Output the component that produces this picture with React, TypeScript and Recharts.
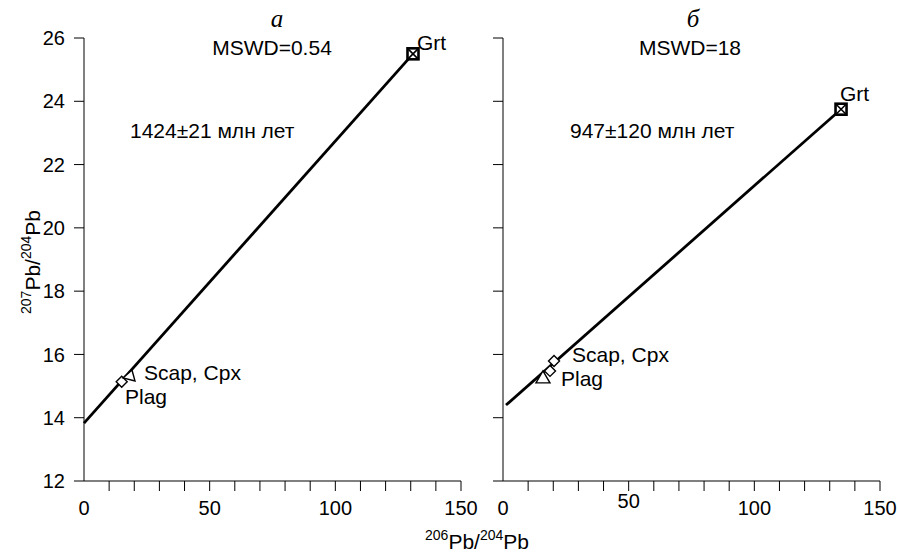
import React from "react";
import { ScatterChart, Scatter, XAxis, YAxis, ReferenceLine } from "recharts";

const FONT = "'Liberation Sans', Arial, sans-serif";

const xTicks = [0, 10, 20, 30, 40, 50, 60, 70, 80, 90, 100, 110, 120, 130, 140, 150];
const yTicks = [12, 14, 16, 18, 20, 22, 24, 26];

// panel "a"
const aPlag = [{ x: 15.0, y: 15.14 }];
const aScapCpx = [{ x: 18.3, y: 15.32 }];
const aGrt = [{ x: 130.9, y: 25.5 }];
const aIsochron = [{ x: 0, y: 13.83 }, { x: 130.9, y: 25.5 }];

// panel "б"
const bPlag = [{ x: 15.9, y: 15.26 }];
const bScapCpx = [{ x: 18.7, y: 15.48 }, { x: 20.3, y: 15.79 }];
const bGrt = [{ x: 134.5, y: 23.75 }];
const bIsochron = [{ x: 1.2, y: 14.4 }, { x: 134.5, y: 23.75 }];

const Diamond = (p: any) => {
  const { cx, cy } = p;
  const r = 5.5;
  return (
    <path
      d={`M${cx},${cy - r} L${cx + r},${cy} L${cx},${cy + r} L${cx - r},${cy} Z`}
      fill="#fff"
      stroke="#000"
      strokeWidth={1.4}
    />
  );
};

const TriangleUp = (p: any) => {
  const { cx, cy } = p;
  return (
    <path
      d={`M${cx},${cy - 7} L${cx + 7},${cy + 5} L${cx - 7},${cy + 5} Z`}
      fill="#fff"
      stroke="#000"
      strokeWidth={1.4}
    />
  );
};

const TriangleTilted = (p: any) => {
  const { cx, cy } = p;
  return (
    <path
      d={`M${cx - 7},${cy + 2} L${cx + 2},${cy - 6} L${cx + 5},${cy + 5} Z`}
      fill="#fff"
      stroke="#000"
      strokeWidth={1.4}
    />
  );
};

const GrtBox = (p: any) => {
  const { cx, cy } = p;
  const h = 5.5;
  return (
    <g>
      <rect x={cx - h} y={cy - h} width={h * 2} height={h * 2} fill="#fff" stroke="#000" strokeWidth={2.6} />
      <line x1={cx - h} y1={cy - h} x2={cx + h} y2={cy + h} stroke="#000" strokeWidth={1.6} />
      <line x1={cx - h} y1={cy + h} x2={cx + h} y2={cy - h} stroke="#000" strokeWidth={1.6} />
    </g>
  );
};

// x ticks: minor tick every 10, labels every 50, no tick line at 0
const makeXTick = (raise: Record<number, number>) => (props: any) => {
  const { x, y, payload } = props;
  const v = payload.value;
  return (
    <g>
      {v !== 0 && <line x1={x} x2={x} y1={y - 10} y2={y} stroke="#000" strokeWidth={1} />}
      {v % 50 === 0 && (
        <text x={x} y={y + 24 - (raise[v] || 0)} textAnchor="middle" fontSize={20} fontFamily={FONT} fill="#000">
          {v}
        </text>
      )}
    </g>
  );
};

const noTick = () => <g />;

const txt = { fontFamily: FONT, fontSize: 21, fill: "#000" };

type PanelProps = {
  width: number;
  yAxisWidth: number;
  right: number;
  showYLabels: boolean;
  raise: Record<number, number>;
  isochron: { x: number; y: number }[];
  children: React.ReactNode;
};

const Panel = ({ width, yAxisWidth, right, showYLabels, raise, isochron, children }: PanelProps) => (
  <ScatterChart width={width} height={552} margin={{ top: 38, right, bottom: 31, left: 0 }}>
    <XAxis
      type="number"
      dataKey="x"
      domain={[0, 150]}
      ticks={xTicks}
      interval={0}
      allowDataOverflow
      height={40}
      tickSize={10}
      tickMargin={0}
      tickLine={false}
      axisLine={{ stroke: "#000", strokeWidth: 1 }}
      tick={makeXTick(raise)}
    />
    <YAxis
      type="number"
      dataKey="y"
      domain={[12, 26]}
      ticks={yTicks}
      interval={0}
      allowDataOverflow
      width={yAxisWidth}
      tickSize={10}
      tickMargin={9}
      tickLine={{ stroke: "#000", strokeWidth: 1 }}
      axisLine={{ stroke: "#000", strokeWidth: 1 }}
      tick={showYLabels ? { fill: "#000", fontSize: 20, fontFamily: FONT } : noTick}
    />
    <ReferenceLine segment={isochron} stroke="#000" strokeWidth={2.8} ifOverflow="visible" />
    {children}
  </ScatterChart>
);

export default function App() {
  return (
    <div style={{ position: "absolute", left: 0, top: 0, width: 898, height: 552, background: "#fff" }}>
      <div style={{ position: "absolute", left: 0, top: 0 }}>
        <Panel width={480} yAxisWidth={84} right={19} showYLabels raise={{}} isochron={aIsochron}>
          <Scatter data={aPlag} shape={Diamond} isAnimationActive={false} />
          <Scatter data={aScapCpx} shape={TriangleTilted} isAnimationActive={false} />
          <Scatter data={aGrt} shape={GrtBox} isAnimationActive={false} />
        </Panel>
      </div>
      <div style={{ position: "absolute", left: 480, top: 0 }}>
        <Panel width={418} yAxisWidth={23} right={18} showYLabels={false} raise={{ 50: 7 }} isochron={bIsochron}>
          <Scatter data={bPlag} shape={TriangleUp} isAnimationActive={false} />
          <Scatter data={bScapCpx} shape={Diamond} isAnimationActive={false} />
          <Scatter data={bGrt} shape={GrtBox} isAnimationActive={false} />
        </Panel>
      </div>
      <svg width={898} height={552} style={{ position: "absolute", left: 0, top: 0, pointerEvents: "none" }}>
        {/* panel titles */}
        <text x={277} y={27} textAnchor="middle" fontFamily="'Liberation Serif', 'Times New Roman', serif" fontStyle="italic" fontSize={25} fill="#000">
          a
        </text>
        <text x={693} y={27} textAnchor="middle" fontFamily="'Liberation Serif', 'Times New Roman', serif" fontStyle="italic" fontSize={25} fill="#000">
          б
        </text>
        <text x={272} y={55} textAnchor="middle" {...txt}>MSWD=0.54</text>
        <text x={690} y={55} textAnchor="middle" {...txt}>MSWD=18</text>
        <text x={130} y={138} {...txt}>1424±21 млн лет</text>
        <text x={570} y={138} {...txt}>947±120 млн лет</text>
        <text x={417} y={50} {...txt}>Grt</text>
        <text x={840} y={101} {...txt}>Grt</text>
        <text x={144} y={380} {...txt}>Scap, Cpx</text>
        <text x={125} y={404} {...txt}>Plag</text>
        <text x={572} y={362} {...txt}>Scap, Cpx</text>
        <text x={561} y={386} {...txt}>Plag</text>
        {/* axis titles */}
        <text x={477} y={549} textAnchor="middle" fontFamily={FONT} fill="#000">
          <tspan fontSize={14} dy={-9}>206</tspan>
          <tspan fontSize={21} dy={9}>Pb/</tspan>
          <tspan fontSize={14} dy={-9}>204</tspan>
          <tspan fontSize={21} dy={9}>Pb</tspan>
        </text>
        <text transform="translate(40,262) rotate(-90)" textAnchor="middle" fontFamily={FONT} fill="#000">
          <tspan fontSize={14} dy={-9}>207</tspan>
          <tspan fontSize={21} dy={9}>Pb/</tspan>
          <tspan fontSize={14} dy={-9}>204</tspan>
          <tspan fontSize={21} dy={9}>Pb</tspan>
        </text>
      </svg>
    </div>
  );
}
